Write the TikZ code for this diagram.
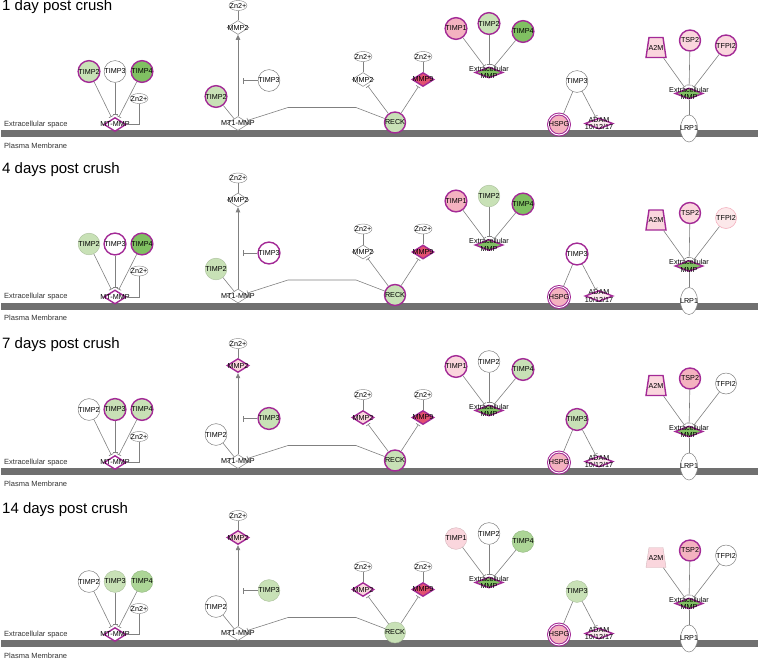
\documentclass[tikz,border=0pt]{standalone}
\usepackage{fontspec}
\setmainfont{Liberation Sans}
\usetikzlibrary{shapes.geometric,arrows.meta}

\definecolor{mag}{RGB}{163,42,150}
\definecolor{edgegray}{RGB}{128,128,128}
\definecolor{bargray}{RGB}{112,112,112}
\definecolor{lgreen}{RGB}{200,225,182}
\definecolor{mgreen}{RGB}{172,213,150}
\definecolor{dgreen}{RGB}{128,192,98}
\definecolor{lpink}{RGB}{250,214,221}
\definecolor{vlpink}{RGB}{252,232,234}
\definecolor{pink}{RGB}{244,178,192}
\definecolor{mmpred}{RGB}{226,80,112}

\tikzset{
  txt/.style={font=\fontsize{7.2}{7.4}\selectfont, inner sep=0pt, align=center},
  prot/.style={circle, minimum size=21pt, inner sep=0pt, font=\fontsize{7.2}{7.4}\selectfont},
  wt/.style={fill=white, draw=edgegray, line width=0.5pt},
  wm/.style={fill=white, draw=mag, line width=1.4pt},
  lg/.style={fill=lgreen, draw=lgreen!85!black, line width=0.4pt},
  lgm/.style={fill=lgreen, draw=mag, line width=1.4pt},
  mg/.style={fill=mgreen, draw=mgreen!85!black, line width=0.4pt},
  dgm/.style={fill=dgreen, draw=mag, line width=1.4pt},
  lp/.style={fill=lpink, draw=lpink!85!black, line width=0.4pt},
  vlp/.style={fill=vlpink, draw=pink, line width=0.6pt},
  lpm/.style={fill=lpink, draw=mag, line width=1.4pt},
  pkm/.style={fill=pink, draw=mag, line width=1.4pt},
  rdm/.style={fill=mmpred, draw=mag, line width=1.4pt},
  zn/.style={ellipse, fill=white, draw=edgegray, line width=0.4pt, minimum width=18pt,
    minimum height=10pt, inner sep=1pt, label={[txt]center:Zn2+}},
  mmpd/.style={diamond, minimum width=22pt, minimum height=14pt, inner sep=1pt,
    label={[txt]center:#1}},
  extd/.style={diamond, fill=dgreen, draw=mag, line width=1.4pt, minimum width=28pt,
    minimum height=11pt, inner sep=1pt, label={[txt]center:Extracellular\\MMP}},
  adamd/.style={diamond, fill=lpink!50!white, draw=mag, line width=1.4pt, minimum width=28pt,
    minimum height=11pt, inner sep=1pt, label={[txt]center:ADAM\\10/12/17}},
  lrp/.style={ellipse, wt, minimum width=17pt, minimum height=27pt, inner sep=1pt,
    label={[txt]center:LRP1}},
  hspg/.style={prot, fill=pink, draw=mag, double=white, double distance=0.9pt, line width=1pt},
  trap/.style={trapezium, trapezium stretches=true, trapezium angle=78, minimum width=20pt,
    minimum height=20pt, inner sep=1pt, label={[txt]center:A2M}},
  edge/.style={draw=edgegray, line width=0.6pt},
  inh/.style={edge, -{Bar[width=5pt, line width=0.6pt]}, shorten >=2pt},
  act/.style={edge, -{Triangle[width=4.5pt, length=5pt]}},
  side/.style={anchor=west, inner sep=0pt, text=black!80, font=\fontsize{7.5}{9}\selectfont}
}

% one panel, drawn round its membrane line
\newcommand{\crushpanel}[2]{%
  \node[anchor=west, inner sep=0pt, font=\fontsize{15}{18}\selectfont] (title) at (2,#2) {#1};
  \fill[bargray] (1,-3.5) rectangle (758,3.5);
  \node[side] (ecs) at (4,-9) {Extracellular space};
  \node[side] (pm) at (4,12) {Plasma Membrane};
  % MT-MMP
  \node[prot, sLtimp2] (ltimp2) at (89,-62) {TIMP2};
  \node[prot, sLtimp3] (ltimp3) at (115,-62) {TIMP3};
  \node[prot, sLtimp4] (ltimp4) at (142,-62) {TIMP4};
  \node[mmpd=MT-MMP, wm] (mtmmp) at (115,-9) {};
  \node[zn] (znL) at (139,-35) {};
  \draw[inh] (ltimp2) -- (mtmmp);
  \draw[inh] (ltimp3) -- (mtmmp);
  \draw[inh] (ltimp4) -- (mtmmp);
  \draw[edge] (znL) |- (mtmmp);
  % MT1-MMP and RECK
  \node[mmpd=MT1-MMP, wt] (mt1) at (238,-10) {};
  \node[prot, sMtimp2] (mtimp2) at (216,-37) {TIMP2};
  \node[mmpd=MMP2, sMmp2] (mmp2t) at (238,-106) {};
  \node[zn] (znT) at (238,-128) {};
  \node[prot, sMtimp3] (mtimp3) at (269,-53) {TIMP3};
  \coordinate (tbar) at (243,-53);
  \node[prot, sReck] (reck) at (395,-11) {RECK};
  \node[mmpd=MMP2, sRmmp2] (rmmp2) at (363,-54) {};
  \node[zn] (znA) at (363,-77) {};
  \node[mmpd=MMP9, sRmmp9] (rmmp9) at (423,-54) {};
  \node[zn] (znB) at (423,-77) {};
  \coordinate (bendA) at (356,-26);
  \coordinate (bendB) at (288,-26);
  \draw[edge] (mtimp2) -- (mt1);
  \draw[act] (mt1) -- (mmp2t);
  \draw[edge] (znT) -- (mmp2t);
  \draw[edge, -{Bar[width=6pt, line width=0.6pt]}] (mtimp3) -- (tbar);
  \draw[inh] (reck) -- (bendA) -- (bendB) -- (mt1);
  \draw[inh] (reck) -- (rmmp2);
  \draw[inh] (reck) -- (rmmp9);
  \draw[edge] (znA) -- (rmmp2);
  \draw[edge] (znB) -- (rmmp9);
  % Extracellular MMP
  \node[prot, sEtimp1] (etimp1) at (456,-105) {TIMP1};
  \node[prot, sEtimp2] (etimp2) at (489,-110) {TIMP2};
  \node[prot, sEtimp4] (etimp4) at (523,-102) {TIMP4};
  \node[extd] (extmmp) at (489,-61) {};
  \draw[inh] (etimp1) -- (extmmp);
  \draw[inh] (etimp2) -- (extmmp);
  \draw[inh] (etimp4) -- (extmmp);
  % TIMP3, HSPG and ADAM
  \node[prot, sRtimp3] (rtimp3) at (577,-52) {TIMP3};
  \node[hspg] (hspg) at (559,-9) {HSPG};
  \node[adamd] (adam) at (599,-10) {};
  \draw[edge] (rtimp3) -- (hspg);
  \draw[inh] (rtimp3) -- (adam);
  % LRP1
  \node[trap, sA2m] (a2m) at (656,-86) {};
  \node[prot, sTsp2] (tsp2) at (690,-93) {TSP2};
  \node[prot, sTfpi2] (tfpi2) at (726,-88) {TFPI2};
  \node[extd] (extmmpR) at (689,-40) {};
  \node[lrp] (lrp1) at (689,-5) {};
  \draw[inh] (a2m) -- (extmmpR);
  \draw[inh] (tsp2) -- (extmmpR);
  \draw[inh] (tfpi2) -- (extmmpR);
  \draw[edge] (extmmpR) -- (lrp1);
}

\begin{document}
\begin{tikzpicture}[x=1pt, y=-1pt]
\useasboundingbox (0,0) rectangle (763,659);

\begin{scope}[shift={(0,133.5)},
  sLtimp2/.style=lgm, sLtimp3/.style=wt, sLtimp4/.style=dgm,
  sMtimp2/.style=lgm, sMmp2/.style=wt, sMtimp3/.style=wt,
  sReck/.style=lgm, sRmmp2/.style=wt, sRmmp9/.style=rdm,
  sEtimp1/.style=pkm, sEtimp2/.style=lgm, sEtimp4/.style=dgm,
  sRtimp3/.style=wt, sA2m/.style=lpm, sTsp2/.style=lpm, sTfpi2/.style=lpm]
\crushpanel{1 day post crush}{-126.5}
\end{scope}

\begin{scope}[shift={(0,306)},
  sLtimp2/.style=lg, sLtimp3/.style=wm, sLtimp4/.style=dgm,
  sMtimp2/.style=lg, sMmp2/.style=wt, sMtimp3/.style=wm,
  sReck/.style=lgm, sRmmp2/.style=wt, sRmmp9/.style=rdm,
  sEtimp1/.style=pkm, sEtimp2/.style=lg, sEtimp4/.style=dgm,
  sRtimp3/.style=wm, sA2m/.style=lpm, sTsp2/.style=lpm, sTfpi2/.style=vlp]
\crushpanel{4 days post crush}{-136}
\end{scope}

\begin{scope}[shift={(0,471.5)},
  sLtimp2/.style=wt, sLtimp3/.style=lgm, sLtimp4/.style=lgm,
  sMtimp2/.style=wt, sMmp2/.style=lpm, sMtimp3/.style=lgm,
  sReck/.style=lgm, sRmmp2/.style=lpm, sRmmp9/.style=rdm,
  sEtimp1/.style=lpm, sEtimp2/.style=wt, sEtimp4/.style=lgm,
  sRtimp3/.style=lgm, sA2m/.style=lpm, sTsp2/.style=pkm, sTfpi2/.style=wt]
\crushpanel{7 days post crush}{-126.5}
\end{scope}

\begin{scope}[shift={(0,643.5)},
  sLtimp2/.style=wt, sLtimp3/.style=lg, sLtimp4/.style=mg,
  sMtimp2/.style=wt, sMmp2/.style=lpm, sMtimp3/.style=lg,
  sReck/.style=lg, sRmmp2/.style=lpm, sRmmp9/.style=rdm,
  sEtimp1/.style=lp, sEtimp2/.style=wt, sEtimp4/.style=mg,
  sRtimp3/.style=lg, sA2m/.style=lp, sTsp2/.style=pkm, sTfpi2/.style=wt]
\crushpanel{14 days post crush}{-133.5}
\end{scope}
\end{tikzpicture}
\end{document}
